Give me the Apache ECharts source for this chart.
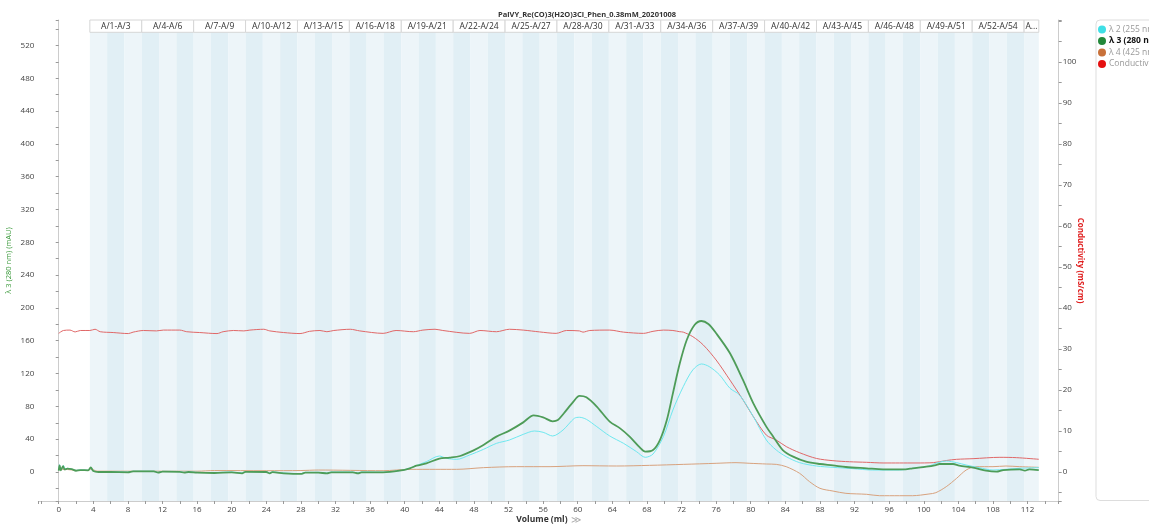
<!DOCTYPE html>
<html>
<head>
<meta charset="utf-8">
<script src="https://cdn.jsdelivr.net/npm/echarts@6/dist/echarts.min.js"></script>
<style>
html, body { margin: 0; padding: 0; background: #fff; }
#chart { width: 1149px; height: 524px; }
</style>
</head>
<body>
<div id="chart"></div>
<script>
// 数据（体积 ml, 数值）
var lambda2 = [[0,1.6],[0.1,9],[0.25,3],[0.55,8],[0.75,3.5],[1.0,4.5],[1.5,3.5],[2.0,2],[2.5,2.6],[3.4,2.2],[3.7,5.5],[4.0,1.5],[4.6,0.4],[6,0.4],[8,0],[8.6,1.0],[11,1.0],[11.5,-0.4],[12,0.8],[14,0.6],[14.5,-0.4],[15,0.4],[16,-0.4],[18,-0.8],[20,0],[21.2,-1.2],[21.6,0.6],[24,0.4],[24.4,-1.2],[24.7,0.2],[26,-1.2],[28,-2.0],[28.5,-0.4],[30,-0.4],[31,-1.2],[31.5,0],[34,0],[34.6,-1.2],[35,0],[37.5,-0.2],
  [39.8,2.4],[41.0,6.5],[42.5,12.6],[44.0,19.5],[44.8,16.7],[46.0,15.4],[47.5,20.7],[49.1,27.6],[50.6,34.9],[52.1,39.0],[53.7,45.9],[55.0,50.0],[56.0,48.4],[57.1,43.9],[58.3,51.2],[59.6,65.4],[60.2,66.7],[61.0,64.2],[62.2,55.3],[63.7,43.9],[65.3,34.9],[66.8,24.8],[67.8,17.9],[68.7,21.9],[69.9,43.1],[71.0,75.6],[72.2,104.1],[73.3,124.4],[74.3,131.7],[75.2,128.5],[76.4,118.3],[77.6,102.0],[78.7,93.9],[80.3,67.5],[81.8,39.0],[82.95,26.8],[84.1,18.7],[85.65,11.4],[87.6,7.3],[89.5,5.7],[91.8,4.1],[94.1,2.4],[97.2,2.4],[98.7,4.5],[100.6,7.3],[101.4,10.6],[102.6,13.4],[103.8,11.4],[104.9,8.5],[106.4,5.3],[108.0,2.4],[109.5,3.25],[111.1,4.5],[113.3,5.3]];

var lambda3 = [[0,1.6],[0.1,8],[0.25,2],[0.5,7],[0.7,3],[1.0,4],[1.5,3.5],[2.0,1.5],[2.5,2.4],[3.4,2.0],[3.7,5.7],[4.0,1.2],[4.6,0],[6,0],[8,-0.4],[8.6,0.8],[11,0.8],[11.5,-0.8],[12,0.4],[14,0.2],[14.5,-0.8],[15,0],[16,-0.8],[18,-1.2],[20,-0.4],[21.2,-1.6],[21.6,0.2],[24,0],[24.4,-1.6],[24.7,-0.2],[26,-1.6],[28,-2.4],[28.5,-0.8],[30,-0.8],[31,-1.6],[31.5,-0.4],[34,-0.4],[34.6,-1.6],[35,-0.4],[37.5,-0.4],
  [39.4,1.6],[40.6,4.5],[41.35,7.7],[42.5,10.6],[44.0,16.3],[45.2,17.5],[46.4,19.5],[47.9,26.0],[49.1,32.9],[50.6,43.1],[52.1,50.4],[53.7,60.5],[54.9,69.1],[56.0,66.7],[57.1,61.8],[57.7,63.4],[58.4,71.6],[59.5,85.8],[60.2,92.7],[61.0,91.0],[62.2,79.7],[63.7,61.4],[64.9,53.2],[66.0,43.1],[67.2,29.7],[67.8,24.8],[68.7,26.8],[69.5,39.0],[70.3,63.4],[71.0,95.9],[71.8,132.5],[72.6,160.9],[73.5,179.2],[74.3,184.1],[75.1,180.4],[76.0,169.1],[77.6,144.7],[79.1,112.2],[80.3,83.7],[81.8,55.3],[82.6,43.1],[83.7,26.8],[84.9,18.7],[86.4,12.6],[88.0,9.75],[89.5,8.1],[91.0,6.1],[93.4,4.5],[95.3,3.25],[97.9,3.25],[98.7,4.5],[100.3,6.5],[101.4,8.5],[101.8,9.75],[103.4,9.75],[104.1,7.7],[105.7,5.3],[107.2,1.6],[108.4,0.4],[109.2,2.4],[111.1,3.25],[111.7,1.6],[112.2,3.25],[113.3,2.4]];

var lambda4 = [[0,1],[0.2,6],[0.5,3],[1,3],[2,2],[3.4,2],[3.7,3.5],[4.5,1],[8,1],[16,1],[18,1.8],[24,1.6],[28,1.8],[30,2.4],[37.5,1.6],[40.6,3.25],[43.6,3.25],[46.0,3.25],[49.1,5.3],[52.9,6.5],[56.8,6.5],[60.6,7.7],[64.5,7.3],[68.3,8.1],[72.2,9.3],[76.0,10.6],[78.3,11.4],[79.9,10.6],[81.8,9.75],[82.95,9.3],[84.1,6.5],[85.65,-1.6],[86.8,-11.8],[88.0,-19.9],[89.5,-23.2],[91.0,-26.0],[93.4,-27.2],[94.9,-28.9],[97.2,-28.9],[98.7,-28.9],[100.6,-26.8],[101.4,-25.2],[102.6,-17.9],[103.8,-7.7],[104.9,2.4],[106.0,6.5],[108.0,6.5],[109.5,7.3],[111.1,6.5],[113.3,5.7]];

var conductivity = [[0,33.8],[0.54,34.5],[1.3,34.6],[1.9,34.15],[2.5,34.5],[3.6,34.5],[4.2,34.8],[4.8,34.2],[6.3,34.0],[8.05,33.75],[8.6,34.1],[9.8,34.5],[11.3,34.4],[12.1,34.6],[14.0,34.6],[14.8,34.2],[16.3,34.0],[18.3,33.75],[19.0,34.2],[20.2,34.5],[21.4,34.4],[22.1,34.6],[23.7,34.8],[24.4,34.4],[26.0,34.0],[27.9,33.75],[29.0,34.3],[30.2,34.5],[31.0,34.2],[31.8,34.5],[33.7,34.8],[34.8,34.4],[37.5,33.8],[39.0,34.5],[41.0,34.2],[42.1,34.6],[43.5,34.8],[44.4,34.5],[47.5,33.8],[48.7,34.5],[50.6,34.2],[52.1,34.8],[53.7,34.6],[55.6,34.15],[57.5,33.8],[58.7,34.5],[60.2,34.4],[60.6,34.1],[61.4,34.5],[63.7,34.6],[65.3,34.1],[67.6,33.8],[68.7,34.3],[69.9,34.6],[71.0,34.5],[71.8,34.2],[72.2,34.1],[73.3,33.0],[74.5,31.0],[76.0,27.3],[77.6,22.4],[79.1,17.6],[80.3,13.5],[81.8,9.0],[82.95,7.8],[84.1,6.2],[85.65,4.7],[87.6,3.3],[89.5,2.76],[91.4,2.5],[93.4,2.36],[95.3,2.2],[97.2,2.2],[99.1,2.2],[101.1,2.28],[102.6,2.8],[103.8,3.09],[105.7,3.25],[108.8,3.58],[110.7,3.5],[113.3,3.1]];

// 馏分边界 (ml) 和分组标签
var fracEdges = [3.6,5.6,7.6,9.6,11.6,13.6,15.6,17.6,19.6,21.6,23.6,25.6,27.6,29.6,31.6,33.6,35.6,37.6,39.6,41.6,43.6,45.6,47.6,49.6,51.6,53.6,55.6,57.6,59.6,61.6,63.6,65.6,67.6,69.6,71.6,73.6,75.6,77.6,79.6,81.6,83.6,85.6,87.6,89.6,91.6,93.6,95.6,97.6,99.6,101.6,103.6,105.6,107.6,109.6,111.6,113.3];
var fracGroups = ['A/1-A/3','A/4-A/6','A/7-A/9','A/10-A/12','A/13-A/15','A/16-A/18','A/19-A/21','A/22-A/24','A/25-A/27','A/28-A/30','A/31-A/33','A/34-A/36','A/37-A/39','A/40-A/42','A/43-A/45','A/46-A/48','A/49-A/51','A/52-A/54','A...'];

var titleText = 'PalVY_Re(CO)3(H2O)3Cl_Phen_0.38mM_20201008';
var font = 'Open Sans';

// 交替底纹
var stripData = [];
for (var i = 0; i < fracEdges.length - 1; i++) {
    stripData.push([
        {xAxis: fracEdges[i], itemStyle: {color: i % 2 ? '#e1eff5' : '#edf5f9'}},
        {xAxis: fracEdges[i + 1]}
    ]);
}
// 顶部分组标签框
var boxData = fracGroups.map(function (name, g) {
    var a = fracEdges[g * 3];
    var b = fracEdges[Math.min(g * 3 + 3, fracEdges.length - 1)];
    return [{xAxis: a, name: name}, {xAxis: b}];
});

var myChart = echarts.init(document.getElementById('chart'));
var xMin = -2.36, xMax = 115.6;

var option = {
    animation: false,
    textStyle: {fontFamily: font},
    title: {
        text: titleText,
        left: 493,
        top: 6,
        textStyle: {fontSize: 7.5, fontWeight: 'bold', color: '#333', fontFamily: font}
    },
    legend: {
        orient: 'vertical',
        left: 1096,
        top: 20,
        padding: [5, 60, 432, 2],
        itemGap: 2.5,
        itemWidth: 8,
        itemHeight: 8,
        icon: 'circle',
        backgroundColor: '#fff',
        borderColor: '#ddd',
        borderWidth: 1,
        borderRadius: 4,
        textStyle: {fontSize: 8.5, color: '#999', fontFamily: font, padding: [0, 0, 0, -2]},
        data: [
            {name: 'λ 2 (255 nm)', itemStyle: {color: '#3fdfe6'}},
            {name: 'λ 3 (280 nm)', itemStyle: {color: '#23883a'}, textStyle: {color: '#111', fontWeight: 'bold'}},
            {name: 'λ 4 (425 nm)', itemStyle: {color: '#c8713a'}},
            {name: 'Conductivity', itemStyle: {color: '#e51010'}}
        ]
    },
    grid: [
        {left: 38.3, right: 90.3, top: 20, bottom: 23, outerBoundsMode: 'none', containLabel: false},
        {left: 38.3, right: 90.3, top: 20, height: 12.3, outerBoundsMode: 'none', containLabel: false}
    ],
    xAxis: [
        {
            type: 'value', gridIndex: 0, min: xMin, max: xMax, splitNumber: 59,
            name: '{b|Volume (ml)} {a|≫}',
            nameLocation: 'middle', nameGap: 13, nameMoveOverlap: false,
            nameTextStyle: {
                rich: {
                    b: {fontSize: 8.5, fontWeight: 'bold', color: '#333', fontFamily: font},
                    a: {fontSize: 10, color: '#aaa', fontFamily: font}
                }
            },
            axisLine: {onZero: false, lineStyle: {color: '#ccc'}},
            axisTick: {length: 3, lineStyle: {color: '#999'}},
            axisLabel: {
                fontSize: 8, color: '#444', margin: 5,
                formatter: function (v) { return (Math.round(v) === v && v % 4 === 0) ? String(v) : ''; }
            },
            splitLine: {show: false}
        },
        {type: 'value', gridIndex: 1, min: xMin, max: xMax, show: false}
    ],
    yAxis: [
        {
            type: 'value', gridIndex: 0, position: 'left', min: -35.35, max: 551, splitNumber: 29,
            name: 'λ 3 (280 nm) (mAU)', nameLocation: 'middle', nameGap: 25, nameMoveOverlap: false,
            nameTextStyle: {color: '#3c9a3c', fontSize: 7.5, fontFamily: font},
            axisLine: {show: true, lineStyle: {color: '#ccc'}},
            axisTick: {show: true, length: 3, lineStyle: {color: '#999'}},
            axisLabel: {
                fontSize: 8, color: '#444', margin: 4,
                formatter: function (v) { return (Math.round(v) === v && v % 40 === 0) ? String(v) : ''; }
            },
            splitLine: {show: false}
        },
        {
            type: 'value', gridIndex: 0, position: 'right', min: -7.07, max: 110.2, splitNumber: 24,
            name: 'Conductivity (mS/cm)', nameLocation: 'middle', nameGap: 18, nameRotate: -90, nameMoveOverlap: false,
            nameTextStyle: {color: '#e02020', fontSize: 8, fontWeight: 'bold', fontFamily: font},
            axisLine: {show: true, lineStyle: {color: '#ccc'}},
            axisTick: {show: true, length: 3, lineStyle: {color: '#999'}},
            axisLabel: {
                fontSize: 8, color: '#444', margin: 4,
                formatter: function (v) { return (Math.round(v) === v && v % 10 === 0 && v <= 100) ? String(v) : ''; }
            },
            splitLine: {show: false}
        },
        {type: 'value', gridIndex: 1, min: 0, max: 1, show: false}
    ],
    series: [
        {
            // 馏分底纹
            type: 'line', xAxisIndex: 0, yAxisIndex: 0, data: [], z: 0, silent: true,
            markArea: {silent: true, data: stripData}
        },
        {
            name: 'Conductivity', type: 'line', xAxisIndex: 0, yAxisIndex: 1,
            data: conductivity, showSymbol: false, smooth: 0.3, z: 2,
            itemStyle: {color: '#e51010'}, lineStyle: {color: '#e06868', width: 1}
        },
        {
            name: 'λ 4 (425 nm)', type: 'line', xAxisIndex: 0, yAxisIndex: 0,
            data: lambda4, showSymbol: false, smooth: 0.3, z: 3,
            itemStyle: {color: '#c8713a'}, lineStyle: {color: '#d8a27e', width: 1}
        },
        {
            name: 'λ 2 (255 nm)', type: 'line', xAxisIndex: 0, yAxisIndex: 0,
            data: lambda2, showSymbol: false, smooth: 0.3, z: 4,
            itemStyle: {color: '#3fdfe6'}, lineStyle: {color: '#6fe8ef', width: 1}
        },
        {
            name: 'λ 3 (280 nm)', type: 'line', xAxisIndex: 0, yAxisIndex: 0,
            data: lambda3, showSymbol: false, smooth: 0.3, z: 5,
            itemStyle: {color: '#23883a'}, lineStyle: {color: '#4e9c58', width: 1.8}
        },
        {
            // 分组标签框
            type: 'line', xAxisIndex: 1, yAxisIndex: 2, data: [], z: 6, silent: true,
            markArea: {
                silent: true,
                itemStyle: {color: '#fff', borderColor: '#d6d6d6', borderWidth: 1},
                label: {show: true, position: 'inside', fontSize: 8.5, color: '#333', fontFamily: font},
                data: boxData
            }
        }
    ]
};

myChart.setOption(option);
</script>
</body>
</html>
